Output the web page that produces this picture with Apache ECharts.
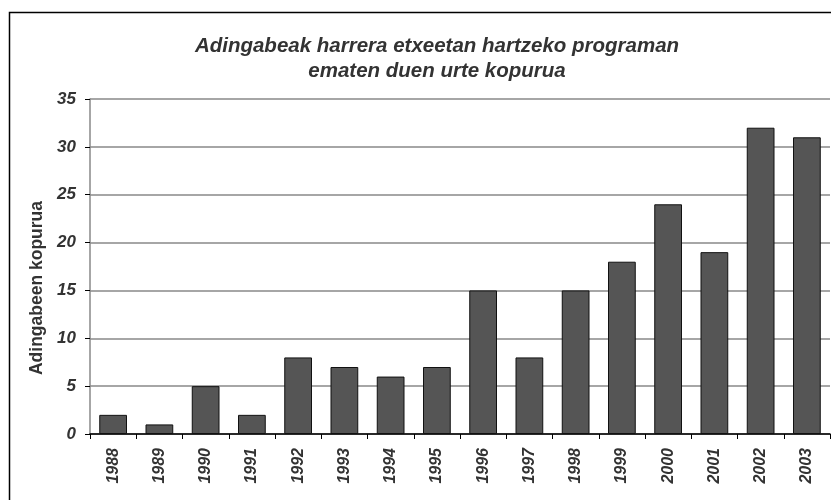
<!DOCTYPE html>
<html><head><meta charset="utf-8">
<script src="https://cdn.jsdelivr.net/npm/echarts@6/dist/echarts.min.js"></script>
<style>html,body{margin:0;padding:0;background:#fff}#c{width:831px;height:500px}</style>
</head><body><div id="c"></div>
<script>
const years = ['1988','1989','1990','1991','1992','1993','1994','1995','1996','1997','1998','1999','2000','2001','2002','2003'];
const counts = [2,1,5,2,8,7,6,7,15,8,15,18,24,19,32,31];
const yTicks = [0,5,10,15,20,25,30,35];
const titleText = 'Adingabeak harrera etxeetan hartzeko programan\nematen duen urte kopurua';
const yName = 'Adingabeen kopurua';

const chart = echarts.init(document.getElementById('c'), null, {renderer:'canvas'});
const font = 'Liberation Sans, Arial, sans-serif';
chart.setOption({
  animation:false,
  backgroundColor:'#fff',
  graphic:[
    {type:'rect',shape:{x:9.5,y:12.5,width:840,height:500},style:{fill:'none',stroke:'#000',lineWidth:1.5},silent:true},
    {type:'text',x:37,y:288,rotation:Math.PI/2,silent:true,
      style:{text:yName,font:'bold 17.5px Liberation Sans, Arial, sans-serif',fill:'#333',align:'center',verticalAlign:'middle'}}
  ],
  title:{text:titleText,left:432,top:29,textAlign:'center',
    textStyle:{fontFamily:font,fontSize:20.5,fontWeight:'bold',fontStyle:'italic',color:'#333',lineHeight:25}},
  grid:{left:90,right:1,top:99,bottom:66,containLabel:false},
  xAxis:{type:'category',data:years,
    axisLine:{lineStyle:{color:'#000',width:1.5}},
    axisTick:{show:true,alignWithLabel:false,length:5,lineStyle:{color:'#000'}},
    axisLabel:{rotate:90,margin:14,fontFamily:font,fontSize:16,fontWeight:'bold',fontStyle:'italic',color:'#333'},
    splitLine:{show:false}},
  yAxis:{type:'value',min:0,max:35,interval:5,
    axisLine:{show:true,lineStyle:{color:'#888',width:1.5}},
    axisTick:{show:true,length:5,lineStyle:{color:'#000'}},
    axisLabel:{margin:14,fontFamily:font,fontSize:17,fontWeight:'bold',fontStyle:'italic',color:'#333',
      formatter:v=>yTicks.includes(v)?String(v):''},
    splitLine:{show:true,lineStyle:{color:'#888',width:1.5}}},
  series:[{type:'bar',data:counts,barWidth:'60%',
    itemStyle:{color:'#555',borderColor:'#111',borderWidth:1}}]
});
</script></body></html>
